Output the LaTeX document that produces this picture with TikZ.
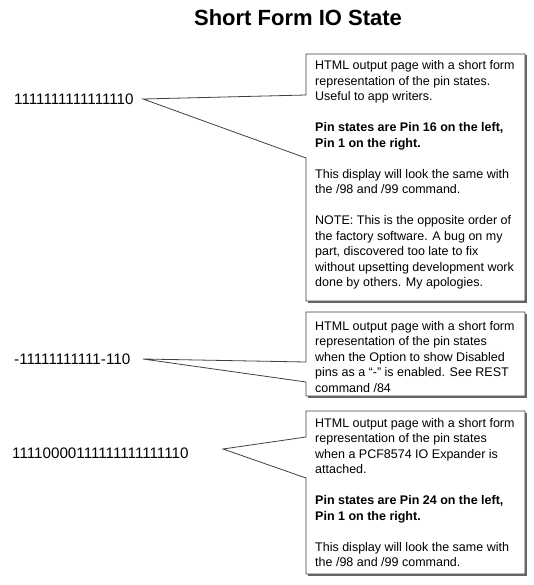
\documentclass[tikz,border=0pt]{standalone}
\usepackage{fontspec}
\setmainfont{Liberation Sans}
\tikzset{
  calloutline/.style={draw=black!75, line width=0.8pt, fill=white, line join=miter},
  calloutshadow/.style={fill=black!60},
  notetext/.style={anchor=base west, inner sep=0pt, font=\fontsize{12.5}{15.5}\selectfont},
  numtext/.style={anchor=base west, inner sep=0pt, font=\fontsize{15.2}{17}\selectfont},
  titletext/.style={anchor=base, inner sep=0pt, font=\bfseries\fontsize{22}{26}\selectfont},
}
\begin{document}
\begin{tikzpicture}[x=1pt,y=-1pt]
\useasboundingbox (0,0) rectangle (533,585);

\node[titletext] (title) at (298,26) {Short Form IO State};

% left numbers
\node[numtext] (n1) at (14,104.5) {1111111111111110};
\node[numtext] (n2) at (14,364.5) {-11111111111-110};
\node[numtext] (n3) at (12,458.5) {11110000111111111111110};
\coordinate (t1) at (143,99);
\coordinate (t2) at (143,359);
\coordinate (t3) at (223,449);

% callout 1
\fill[calloutshadow] (307.5,55.5) rectangle (526.5,302.5);
\path[calloutline] (306,54) -- (525,54) -- (525,301) -- (306,301) -- (306,158) -- (t1) -- (306,95) -- cycle;
% callout 2
\fill[calloutshadow] (307.5,313.5) rectangle (526.5,397.5);
\path[calloutline] (306,312) -- (525,312) -- (525,396) -- (306,396) -- (306,382) -- (t2) -- (306,362) -- cycle;
% callout 3
\fill[calloutshadow] (307.5,412.5) rectangle (526.5,575.5);
\path[calloutline] (306,411) -- (525,411) -- (525,574) -- (306,574) -- (306,478) -- (t3) -- (306,437) -- cycle;

\node[notetext] (b1) at (315,70) {\parbox[t]{208pt}{\raggedright
HTML output page with a short form\\
representation of the pin states.\\
Useful to app writers.\\[15.5pt]
\textbf{Pin states are Pin 16 on the left,}\\
\textbf{Pin 1 on the right.}\\[15.5pt]
This display will look the same with\\
the /98 and /99 command.\\[15.5pt]
NOTE: This is the opposite order of\\
the factory software. A bug on my\\
part, discovered too late to fix\\
without upsetting development work\\
done by others. My apologies.}};

\node[notetext] (b2) at (315,330) {\parbox[t]{208pt}{\raggedright
HTML output page with a short form\\
representation of the pin states\\
when the Option to show Disabled\\
pins as a “-” is enabled. See REST\\
command /84}};

\node[notetext] (b3) at (315,427) {\parbox[t]{208pt}{\raggedright
HTML output page with a short form\\
representation of the pin states\\
when a PCF8574 IO Expander is\\
attached.\\[15.5pt]
\textbf{Pin states are Pin 24 on the left,}\\
\textbf{Pin 1 on the right.}\\[15.5pt]
This display will look the same with\\
the /98 and /99 command.}};
\end{tikzpicture}
\end{document}
